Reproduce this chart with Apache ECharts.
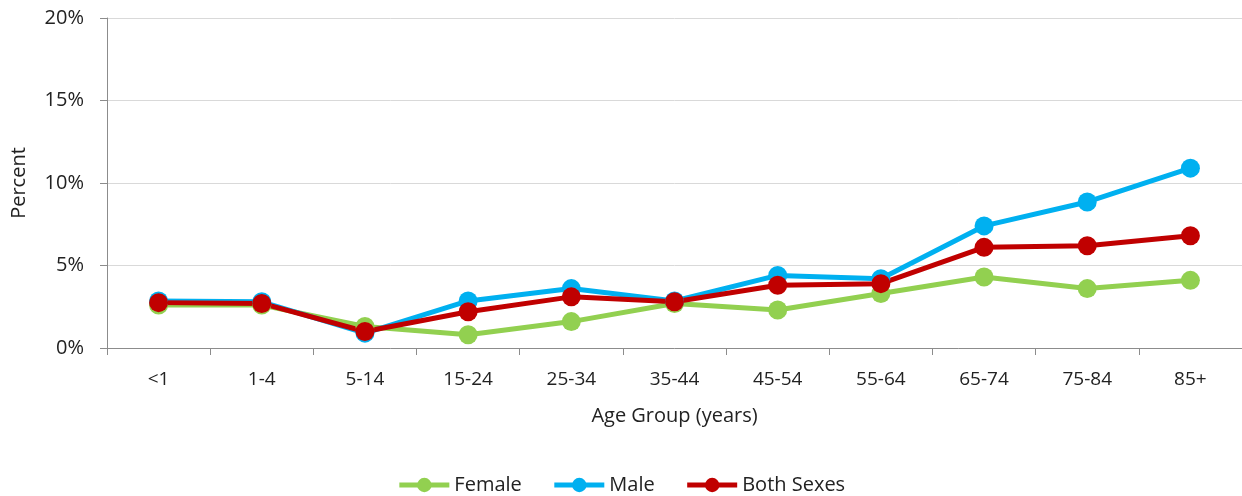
<!DOCTYPE html>
<html><head><meta charset="utf-8">
<script src="https://cdn.jsdelivr.net/npm/echarts@6/dist/echarts.min.js"></script>
<style>html,body{margin:0;padding:0;background:#fff}#c{width:1242px;height:496px}</style>
</head><body><div id="c"></div>
<script>
const categories = ['<1','1-4','5-14','15-24','25-34','35-44','45-54','55-64','65-74','75-84','85+'];
const female = [2.6, 2.6, 1.3, 0.8, 1.6, 2.7, 2.3, 3.3, 4.3, 3.6, 4.1];
const male   = [2.85, 2.8, 0.9, 2.85, 3.6, 2.85, 4.4, 4.2, 7.4, 8.85, 10.9];
const both   = [2.75, 2.7, 1.0, 2.2, 3.1, 2.8, 3.8, 3.9, 6.1, 6.2, 6.8];
const seriesNames = ['Female','Male','Both Sexes'];
const colors = ['#92D050','#00B0F0','#C00000'];
const FONT = 'Open Sans';
const chart = echarts.init(document.getElementById('c'));
const mk = (name, data, color) => ({
  name, type:'line', data, color,
  symbol:'circle', symbolSize:19,
  lineStyle:{width:5, color},
  itemStyle:{color},
  animation:false
});
chart.setOption({
  animation:false,
  textStyle:{fontFamily:FONT},
  grid:{left:107, right:0, top:18, bottom:148, containLabel:false, outerBoundsMode:'none'},
  legend:{
    bottom:-4, left:'center', itemWidth:50, itemHeight:18, itemGap:30,
    lineStyle:{width:5},
    textStyle:{fontFamily:FONT, fontSize:20, color:'#222'},
    data:seriesNames
  },
  xAxis:{
    type:'category', data:categories, boundaryGap:true,
    name:'Age Group (years)', nameLocation:'middle', nameGap:58,
    nameTextStyle:{fontFamily:FONT, fontSize:20, color:'#222'},
    axisLine:{lineStyle:{color:'#8c8c8c', width:1}},
    axisTick:{show:true, alignWithLabel:false, length:7, lineStyle:{color:'#8c8c8c'}},
    axisLabel:{fontFamily:FONT, fontSize:19, color:'#222', margin:22}
  },
  yAxis:{
    type:'value', min:0, max:20, interval:5,
    name:'Percent', nameLocation:'middle', nameGap:78, nameRotate:90,
    nameTextStyle:{fontFamily:FONT, fontSize:20, color:'#222'},
    axisLine:{show:true, lineStyle:{color:'#8c8c8c', width:1}},
    axisTick:{show:true, length:7, lineStyle:{color:'#8c8c8c'}},
    axisLabel:{fontFamily:FONT, fontSize:20, color:'#222', margin:23, formatter:'{value}%'},
    splitLine:{lineStyle:{color:'#d9d9d9', width:1}}
  },
  series:[mk(seriesNames[0], female, colors[0]), mk(seriesNames[1], male, colors[1]), mk(seriesNames[2], both, colors[2])]
});
</script></body></html>
